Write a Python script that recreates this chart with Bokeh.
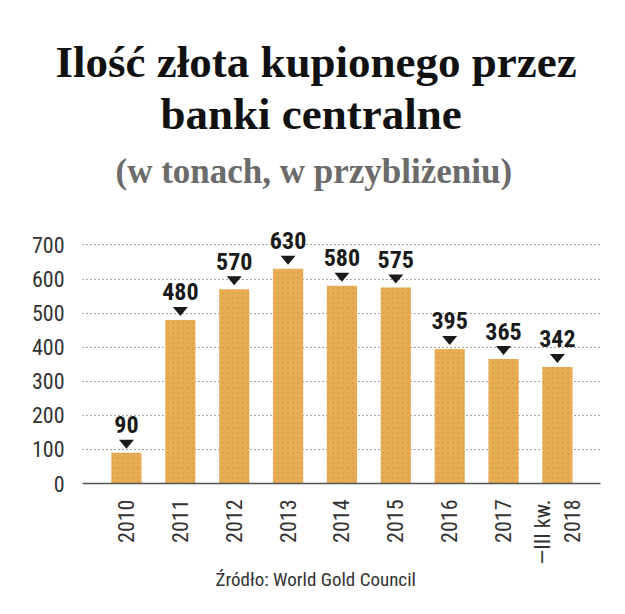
from bokeh.plotting import figure
from bokeh.models import Range1d, FixedTicker, Title, ColumnDataSource
from bokeh.core.properties import value
from bokeh.embed import file_html
from bokeh.resources import INLINE
import math

# ---- data ----
categories = ["2010", "2011", "2012", "2013", "2014", "2015", "2016", "2017", "—III kw.\n2018"]
tonnes = [90, 480, 570, 630, 580, 575, 395, 365, 342]
value_labels = ["90", "480", "570", "630", "580", "575", "395", "365", "342"]
y_ticks = [0, 100, 200, 300, 400, 500, 600, 700]

title_line1 = "Ilość złota kupionego przez"
title_line2 = "banki centralne"
subtitle = "(w tonach, w przybliżeniu)"
source_text = "Źródło: World Gold Council"

NARROW = "'Liberation Sans Narrow', 'Roboto Condensed', 'DejaVu Sans Condensed', sans-serif"
SERIF = "Liberation Serif"

xs = list(range(len(categories)))
src = ColumnDataSource(dict(x=xs, top=tonnes, lab=value_labels))

FRAME_TOP = 202
ZERO_Y = 483.4
PX_PER_UNIT = 0.3413
y_end = (ZERO_Y - FRAME_TOP) / PX_PER_UNIT

p = figure(width=625, height=614, output_backend="svg", toolbar_location=None,
           x_range=Range1d(-0.816, 8.8), y_range=Range1d(0, y_end),
           min_border_left=82, min_border_right=25, min_border_top=FRAME_TOP,
           min_border_bottom=131, title=None, background_fill_color="white",
           border_fill_color="white")
p.outline_line_color = None

# bars
p.vbar(x="x", top="top", bottom=0, width=0.56, source=src,
       fill_color="#E8AE55", line_color=None,
       hatch_pattern="dot", hatch_color="#C98A36", hatch_alpha=0.35, hatch_scale=5)

# triangles pointing at bar tops (pixel sizes converted through the fixed y scale)
tri_half = 7.5 / 53.87
tri_xs = [[x - tri_half, x + tri_half, x] for x in xs]
tri_ys = [[t + 13 / PX_PER_UNIT, t + 13 / PX_PER_UNIT, t + 4 / PX_PER_UNIT] for t in tonnes]
p.patches(tri_xs, tri_ys, fill_color="#1a1a1a", line_color=None)

# value labels
p.text(x="x", y="top", text="lab", source=src, text_align="center",
       text_baseline="alphabetic", y_offset=-28,
       text_font=value(NARROW), text_font_style="bold",
       text_font_size="24px", text_color="#1a1a1a")

# axes
p.yaxis.ticker = FixedTicker(ticks=y_ticks)
p.yaxis.axis_line_color = None
p.yaxis.major_tick_line_color = None
p.yaxis.minor_tick_line_color = None
p.yaxis.major_label_standoff = 12
p.yaxis.major_label_text_font = NARROW
p.yaxis.major_label_text_font_size = "22px"
p.yaxis.major_label_text_color = "#333333"

p.xaxis.ticker = FixedTicker(ticks=xs)
p.xaxis.major_label_overrides = {i: c for i, c in enumerate(categories)}
p.xaxis.major_label_orientation = math.pi / 2
p.xaxis.axis_line_color = "#555555"
p.xaxis.axis_line_width = 1.5
p.xaxis.major_tick_line_color = None
p.xaxis.minor_tick_line_color = None
p.xaxis.major_label_standoff = 10
p.xaxis.major_label_text_font = NARROW
p.xaxis.major_label_text_font_size = "22px"
p.xaxis.major_label_text_color = "#333333"

p.xgrid.grid_line_color = None
p.ygrid.ticker = FixedTicker(ticks=y_ticks)
p.ygrid.grid_line_color = "#444444"
p.ygrid.grid_line_dash = "1 3"
p.ygrid.grid_line_width = 1

# titles (nearest to frame first)
p.add_layout(Title(text=subtitle, align="left", offset=33, text_font=SERIF,
                   text_font_style="bold", text_font_size="35px",
                   text_color="#6b6b6b", standoff=23), "above")
p.add_layout(Title(text=title_line2, align="left", offset=78, text_font=SERIF,
                   text_font_style="bold", text_font_size="45px",
                   text_color="#111111", standoff=0), "above")
p.add_layout(Title(text=title_line1, align="left", offset=-27, text_font=SERIF,
                   text_font_style="bold", text_font_size="45px",
                   text_color="#111111", standoff=0), "above")

p.add_layout(Title(text=source_text, align="left", offset=133, text_font=NARROW,
                   text_font_style="normal", text_font_size="19px",
                   text_color="#333333", standoff=-3), "below")

open("out.html", "w").write(file_html(p, INLINE))
